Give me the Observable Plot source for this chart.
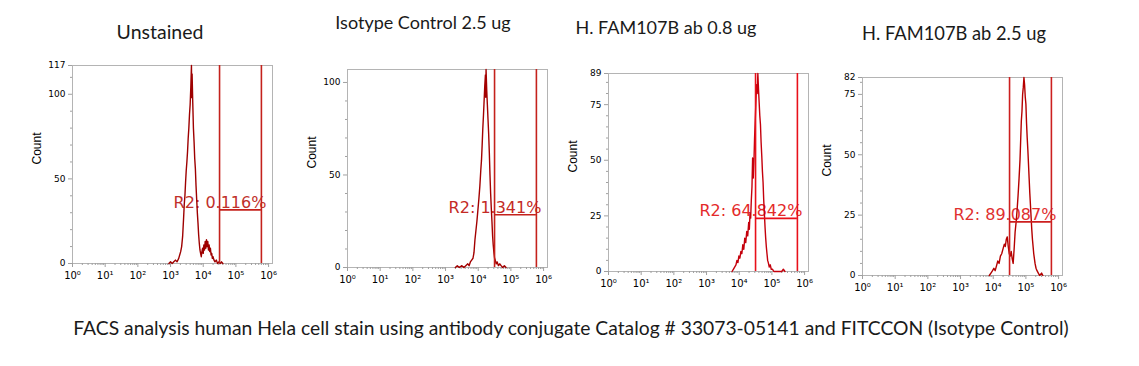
<!DOCTYPE html>
<html><head><meta charset="utf-8">
<script src="https://cdn.jsdelivr.net/npm/d3@7"></script>
<script src="https://cdn.jsdelivr.net/npm/@observablehq/plot@0.6"></script>
<style>
body{margin:0;background:#fff;width:1139px;height:366px;position:relative;overflow:hidden;font-family:Lato,sans-serif}
.t{position:absolute;white-space:nowrap;transform:translate(-50%,-50%);font-size:18px;color:#1a1a1a}
.p{position:absolute}
.p svg{overflow:visible}
</style></head><body>
<script>
// ---- data ----
const panelTitles = ["Unstained", "Isotype Control 2.5 ug", "H. FAM107B ab 0.8 ug", "H. FAM107B ab 2.5 ug"];
const caption = "FACS analysis human Hela cell stain using antibody conjugate Catalog # 33073-05141 and FITCCON (Isotype Control)";
const gateLabels = ["R2: 0.116%", "R2: 1.341%", "R2: 64.842%", "R2: 89.087%"];
const yMax = [117, 107, 89, 82];
const yTickValues = [[0, 50, 100, 117], [0, 50, 100], [0, 25, 50, 75, 89], [0, 25, 50, 75, 82]];
const xTickValues = [1, 10, 100, 1000, 10000, 100000, 1000000];
const xTickLabels = ["10⁰", "10¹", "10²", "10³", "10⁴", "10⁵", "10⁶"];
const gateLow = [31600, 31600, 31600, 31600];
const gateHigh = [603000, 603000, 603000, 603000];
const gateY = [31.7, 28.5, 23.9, 22.2];

// histograms: log10(fluorescence) and count
const unstainedExp = [2.95,3.00,3.05,3.10,3.15,3.20,3.25,3.28,3.31,3.34,3.37,3.40,3.42,3.44,3.46,3.48,3.50,3.52,3.54,3.56,3.58,3.60,3.62,3.64,3.65,3.66,3.68,3.70,3.72,3.74,3.76,3.78,3.80,3.82,3.84,3.86,3.88,3.90,3.92,3.94,3.96,3.98,4.00,4.02,4.04,4.06,4.08,4.10,4.12,4.14,4.16,4.18,4.20,4.22,4.24,4.26,4.28,4.30,4.33,4.36,4.40,4.44,4.48,4.52,4.56,4.60];
const unstainedCount = [0,1,0,1,2,1,3,5,7,10,16,27,35,40,48,55,60,66,74,80,88,94,104,117,98,112,95,80,72,62,56,46,38,30,24,17,12,8,6,4,7,9,6,11,8,13,9,14,10,13,8,11,7,9,5,6,3,4,2,1,2,0,1,0,1,0];

const isotypeExp = [3.30,3.36,3.42,3.50,3.56,3.62,3.68,3.72,3.76,3.80,3.84,3.87,3.90,3.93,3.96,3.99,4.02,4.05,4.08,4.10,4.12,4.14,4.16,4.18,4.20,4.22,4.23,4.24,4.26,4.28,4.30,4.32,4.34,4.36,4.38,4.40,4.42,4.44,4.46,4.48,4.50,4.52,4.55,4.58,4.62,4.66,4.70,4.75,4.80,4.85];
const isotypeCount = [0,1,0,1,0,1,2,1,3,4,5,8,15,20,25,31,37,44,53,58,66,75,82,90,98,104,92,107,96,88,80,72,62,50,40,32,25,17,12,8,5,4,2,3,1,2,1,0,1,0];

const ab08Exp = [3.78,3.82,3.86,3.90,3.93,3.96,3.99,4.02,4.05,4.08,4.11,4.14,4.17,4.20,4.23,4.26,4.29,4.31,4.33,4.35,4.37,4.39,4.41,4.43,4.45,4.47,4.49,4.51,4.53,4.55,4.57,4.59,4.61,4.63,4.65,4.67,4.69,4.71,4.73,4.75,4.77,4.79,4.81,4.83,4.85,4.87,4.89,4.92,4.95,4.98,5.02,5.06,5.30,5.35,5.40];
const ab08Count = [0,1,2,3,5,4,7,6,9,8,12,10,15,13,18,16,22,19,26,24,32,38,51,42,49,60,68,76,84,80,89,82,76,70,66,58,52,45,40,32,26,20,15,11,8,5,4,2,3,1,1,0,0,1,0];

const ab25Exp = [3.88,3.93,3.98,4.02,4.06,4.10,4.14,4.18,4.22,4.26,4.30,4.34,4.37,4.40,4.43,4.46,4.49,4.52,4.55,4.58,4.61,4.64,4.67,4.70,4.73,4.76,4.79,4.82,4.84,4.86,4.88,4.90,4.92,4.94,4.96,4.98,5.00,5.02,5.04,5.06,5.08,5.10,5.12,5.14,5.16,5.18,5.20,5.22,5.24,5.26,5.28,5.31,5.34,5.38,5.42,5.48,5.52];
const ab25Count = [0,1,2,3,2,4,6,5,8,9,11,13,12,15,16,12,9,8,10,7,5,11,18,22,27,33,40,48,56,64,68,75,78,82,79,74,71,63,57,52,46,40,34,29,24,19,15,12,9,7,5,3,2,1,0,1,0];

const histExp = [unstainedExp, isotypeExp, ab08Exp, ab25Exp];
const histCount = [unstainedCount, isotypeCount, ab08Count, ab25Count];

// ---- layout / style ----
const panelLeft = [72, 347, 608, 862];
const panelTop = [65, 69, 73, 77];
const titlePos = [[160, 31], [423, 22], [666, 27], [954, 33]];
const titleSize = [19.5, 18, 18, 18.3];
const histColor = ["#9e0000", "#a30000", "#c4000c", "#b50000"];
const gateColor = ["#c4221c", "#c4221c", "#e8101a", "#cc1f1f"];
const textColor = ["#c0302b", "#c42a25", "#e42a2a", "#e03030"];
const minorStep = [10, 10, 5, 5];

const W = 200, H = 198, ML = 52, MR = 8, MT = 12, MB = 28;
const xMinor = [];
for (let d = 0; d < 6; d++) for (let k = 2; k <= 9; k++) xMinor.push(k * Math.pow(10, d));

for (let i = 0; i < 4; i++) {
  const hist = histExp[i].map((e, k) => ({x: Math.pow(10, e), y: histCount[i][k]}));
  const yMinor = d3.range(0, yMax[i] + 0.1, minorStep[i]).filter(v => !yTickValues[i].includes(v));
  const plot = Plot.plot({
    width: W + ML + MR, height: H + MT + MB,
    marginLeft: ML, marginRight: MR, marginTop: MT, marginBottom: MB,
    x: {type: "log", domain: [1, Math.pow(10, 6.12)], label: null},
    y: {domain: [0, yMax[i]], label: null},
    style: {fontFamily: "DejaVu Sans", fontSize: "9px", background: "transparent", color: "#000"},
    marks: [
      Plot.frame({stroke: "#b4b4b4"}),
      Plot.axisX({ticks: xMinor, tickSize: 2, tickFormat: () => "", stroke: "#a0a0a0"}),
      Plot.axisX({ticks: xTickValues, tickSize: 4, tickPadding: 4, fontSize: 10, tickFormat: d => xTickLabels[xTickValues.indexOf(d)], stroke: "#a0a0a0", fill: "#000"}),
      Plot.axisY({ticks: yMinor, tickSize: 2, tickFormat: () => "", stroke: "#a0a0a0"}),
      Plot.axisY({ticks: yTickValues[i], tickSize: 4, tickPadding: 3, tickFormat: d => String(d), stroke: "#a0a0a0", fill: "#000"}),
      Plot.text(["Count"], {frameAnchor: "left", rotate: -90, dx: -35, fontSize: 12, fontFamily: "Liberation Sans", fill: "#000"}),
      Plot.text([{x: gateHigh[i], y: gateY[i], t: gateLabels[i]}], {x: "x", y: "y", text: "t", textAnchor: "end", lineAnchor: "bottom", dx: 5, dy: -2, fontSize: 16, fontFamily: "DejaVu Sans", fill: textColor[i]}),
      Plot.line(hist, {x: "x", y: "y", stroke: histColor[i], strokeWidth: 1.4}),
      Plot.ruleX([gateLow[i], gateHigh[i]], {stroke: gateColor[i], strokeWidth: 1.6}),
      Plot.ruleY([{y: gateY[i], x1: gateLow[i], x2: gateHigh[i]}], {y: "y", x1: "x1", x2: "x2", stroke: gateColor[i], strokeWidth: 1.6})
    ]
  });
  const div = document.createElement("div");
  div.className = "p";
  div.style.left = (panelLeft[i] - ML) + "px";
  div.style.top = (panelTop[i] - MT) + "px";
  div.appendChild(plot);
  document.body.appendChild(div);

  const t = document.createElement("div");
  t.className = "t";
  t.textContent = panelTitles[i];
  t.style.left = titlePos[i][0] + "px";
  t.style.top = titlePos[i][1] + "px";
  t.style.fontSize = titleSize[i] + "px";
  document.body.appendChild(t);
}
const cap = document.createElement("div");
cap.className = "t";
cap.textContent = caption;
cap.style.left = "571px";
cap.style.top = "327px";
cap.style.fontSize = "19.3px";
document.body.appendChild(cap);
</script>
</body></html>
